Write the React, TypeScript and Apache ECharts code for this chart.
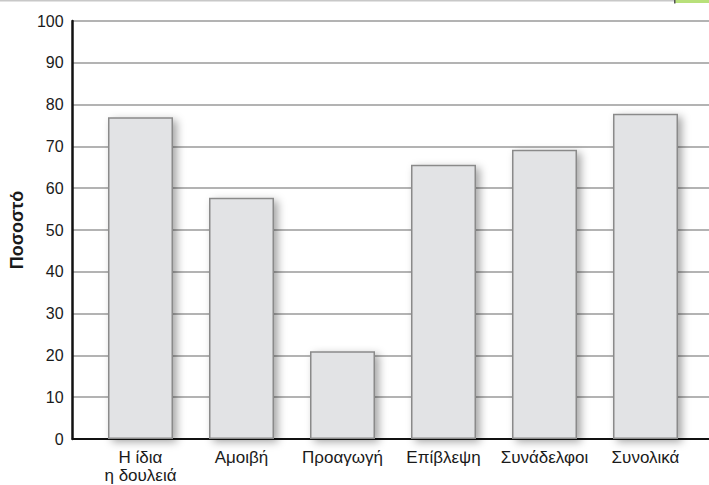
import React, { useEffect, useRef } from "react";
import * as echarts from "echarts";

const categories: string[] = [
  "Η ίδια\nη δουλειά",
  "Αμοιβή",
  "Προαγωγή",
  "Επίβλεψη",
  "Συνάδελφοι",
  "Συνολικά",
];
const values: number[] = [77, 57.7, 21, 65.6, 69.2, 77.8];
const yTicks = { min: 0, max: 100, interval: 10 };
const yName = "Ποσοστό";

const FONT = "'Liberation Sans', Arial, Helvetica, sans-serif";

export default function App() {
  const ref = useRef<HTMLDivElement>(null);
  useEffect(() => {
    if (!ref.current) return;
    document.body.style.margin = "0";
    const chart = echarts.init(ref.current, undefined, { renderer: "svg" });
    chart.setOption({
      animation: false,
      backgroundColor: "#ffffff",
      textStyle: { fontFamily: FONT },
      graphic: [
        {
          type: "rect",
          shape: { x: 0, y: 0, width: 709, height: 1.5 },
          style: { fill: "#c8c8c8" },
          z: 10,
        },
        {
          type: "rect",
          shape: { x: 675, y: 0, width: 34, height: 3 },
          style: { fill: "#b8e07a" },
          z: 11,
        },
        {
          type: "rect",
          shape: { x: 674, y: 0, width: 1.5, height: 3.5 },
          style: { fill: "#555" },
          z: 12,
        },
      ],
      grid: [
        { left: 71, right: -2, top: 21, bottom: 46 },
        { left: 90, right: 13, top: 21, bottom: 46 },
      ],
      xAxis: [
        {
          gridIndex: 0,
          type: "value",
          min: 0,
          max: 1,
          axisLine: { show: true, lineStyle: { color: "#111", width: 2 } },
          axisTick: { show: false },
          axisLabel: { show: false },
          splitLine: { show: false },
        },
        {
          gridIndex: 1,
          type: "category",
          data: categories,
          axisLine: { show: false },
          axisTick: { show: false },
          axisLabel: {
            color: "#1a1a1a",
            fontSize: 17,
            fontFamily: FONT,
            margin: 10,
            lineHeight: 17.5,
            interval: 0,
          },
        },
      ],
      yAxis: [
        {
          gridIndex: 0,
          type: "value",
          min: yTicks.min,
          max: yTicks.max,
          interval: yTicks.interval,
          name: yName,
          nameLocation: "middle",
          nameGap: 46,
          nameTextStyle: {
            color: "#1a1a1a",
            fontSize: 18,
            fontWeight: "bold",
            fontFamily: FONT,
          },
          axisLine: { show: true, lineStyle: { color: "#111", width: 2.5 } },
          axisTick: { show: false },
          axisLabel: {
            color: "#1a1a1a",
            fontSize: 16,
            fontFamily: FONT,
            margin: 9,
          },
          splitLine: { show: true, lineStyle: { color: "#9a9a9a", width: 1.5 } },
        },
        {
          gridIndex: 1,
          type: "value",
          min: yTicks.min,
          max: yTicks.max,
          interval: yTicks.interval,
          show: false,
        },
      ],
      series: [
        {
          type: "bar",
          xAxisIndex: 1,
          yAxisIndex: 1,
          data: values,
          barWidth: 65,
          itemStyle: {
            color: "#e2e3e5",
            borderColor: "#8a8a8a",
            borderWidth: 1.5,
            shadowColor: "rgba(0,0,0,0.35)",
            shadowBlur: 8,
            shadowOffsetX: 4,
            shadowOffsetY: 3,
          },
          z: 3,
        },
      ],
    });
    return () => chart.dispose();
  }, []);
  return (
    <div
      ref={ref}
      style={{ position: "absolute", left: 0, top: 0, width: 709, height: 485 }}
    />
  );
}
